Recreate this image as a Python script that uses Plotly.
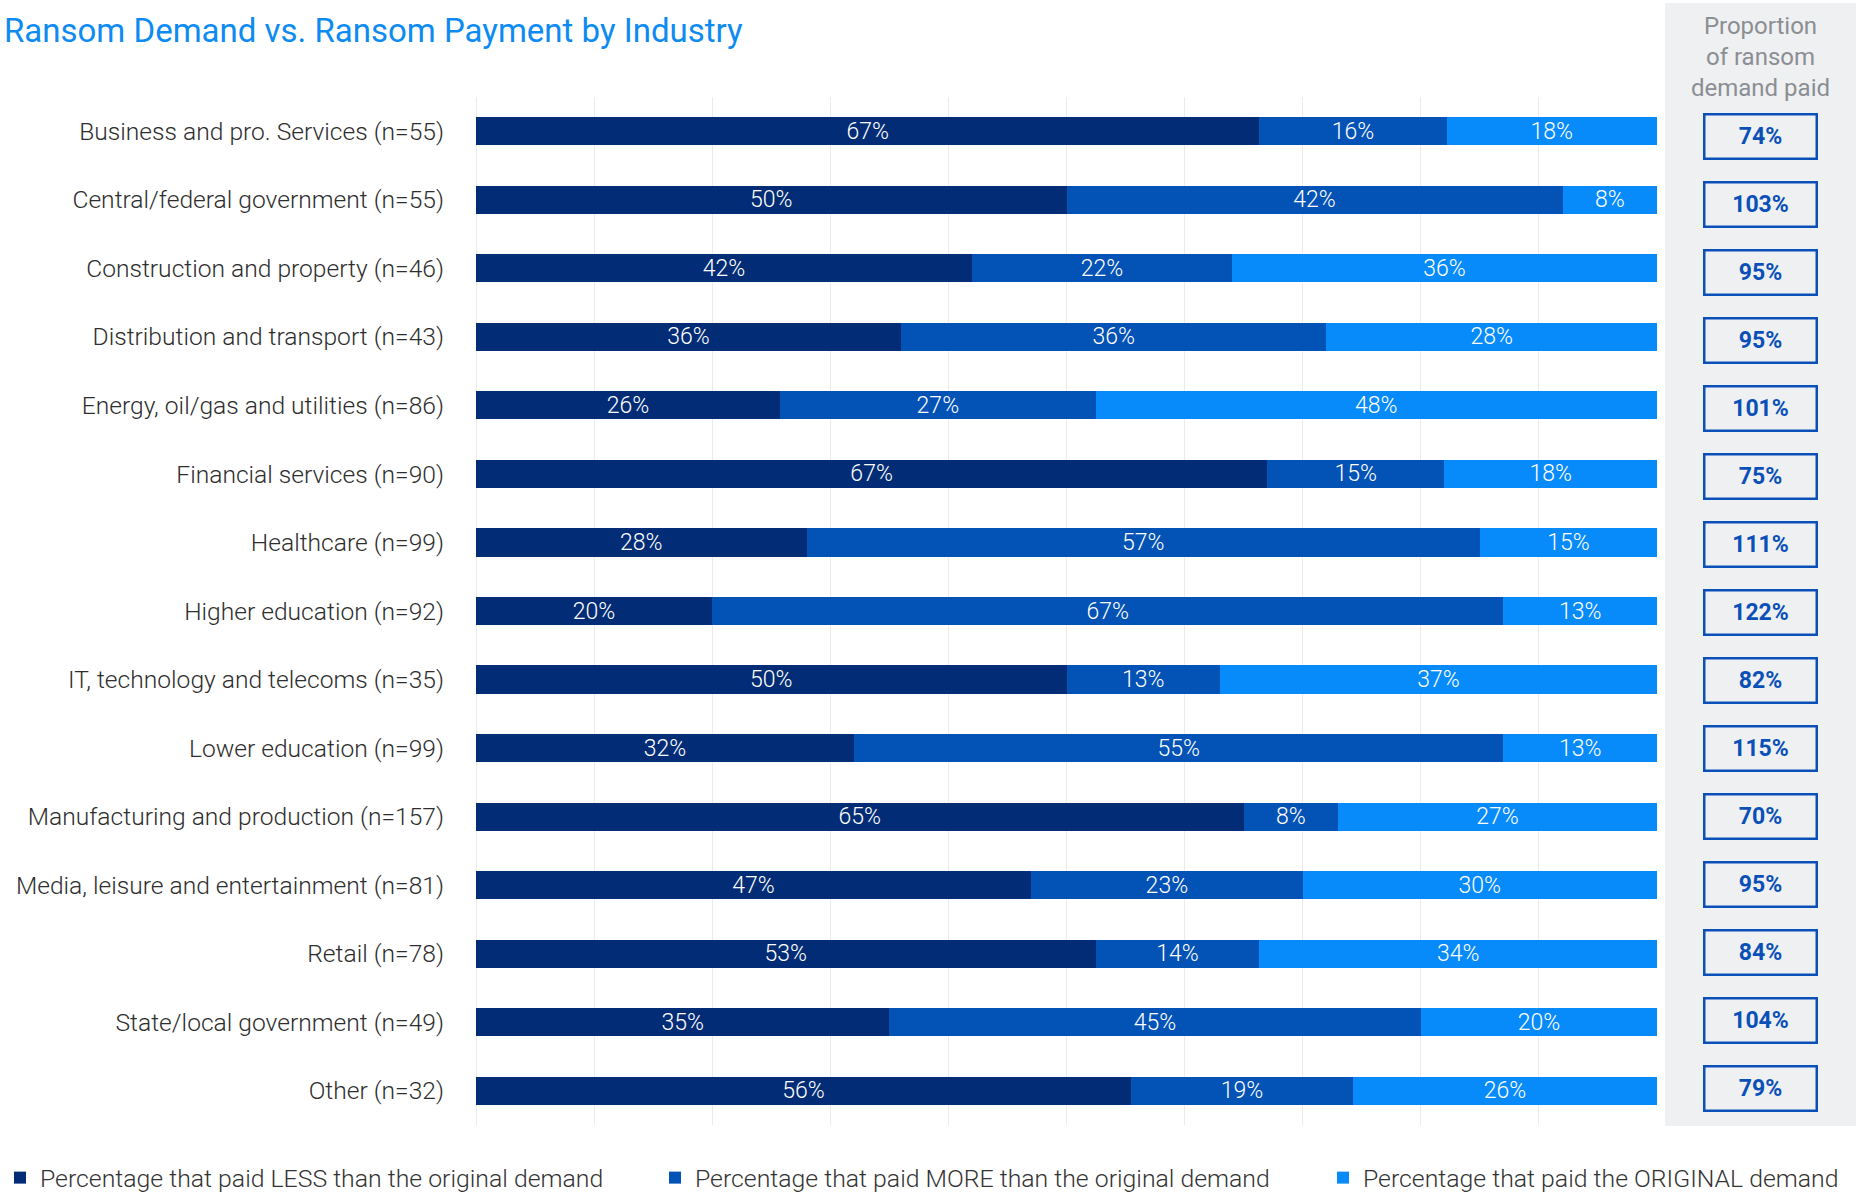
import plotly.graph_objects as go

categories = [
    "Business and pro. Services (n=55)",
    "Central/federal government (n=55)",
    "Construction and property (n=46)",
    "Distribution and transport (n=43)",
    "Energy, oil/gas and utilities (n=86)",
    "Financial services (n=90)",
    "Healthcare (n=99)",
    "Higher education (n=92)",
    "IT, technology and telecoms (n=35)",
    "Lower education (n=99)",
    "Manufacturing and production (n=157)",
    "Media, leisure and entertainment (n=81)",
    "Retail (n=78)",
    "State/local government (n=49)",
    "Other (n=32)",
]
paid_less = [67, 50, 42, 36, 26, 67, 28, 20, 50, 32, 65, 47, 53, 35, 56]
paid_more = [16, 42, 22, 36, 27, 15, 57, 67, 13, 55, 8, 23, 14, 45, 19]
paid_original = [18, 8, 36, 28, 48, 18, 15, 13, 37, 13, 27, 30, 34, 20, 26]
proportion_paid = [74, 103, 95, 95, 101, 75, 111, 122, 82, 115, 70, 95, 84, 104, 79]

series_names = [
    "Percentage that paid LESS than the original demand",
    "Percentage that paid MORE than the original demand",
    "Percentage that paid the ORIGINAL demand",
]
series_values = [paid_less, paid_more, paid_original]
colors = ["#022c75", "#0352b6", "#078bfb"]
header_text = "Proportion<br>of ransom<br>demand paid"

totals = [a + b + c for a, b, c in zip(paid_less, paid_more, paid_original)]

# figure geometry (px)
W, H = 1858, 1192
L, R, T, B = 476, 201, 97, 67
pw = W - L - R
ph = H - T - B


def px_x(px):
    return (px - L) / pw


def px_y(py):
    return (H - B - py) / ph


legend_ids = ["legend", "legend2", "legend3"]
legend_left_px = [-21, 655, 1323]

LIGHT = "Roboto Light, Roboto"

fig = go.Figure()
for name, vals, col, lid in zip(series_names, series_values, colors, legend_ids):
    fig.add_trace(go.Bar(
        name=name,
        y=categories,
        x=[v / t * 100 for v, t in zip(vals, totals)],
        customdata=vals,
        orientation="h",
        legend=lid,
        marker=dict(color=col, line=dict(width=0)),
        texttemplate="%{customdata}%",
        textposition="inside",
        insidetextanchor="middle",
        constraintext="none",
        textangle=0,
        textfont=dict(family=LIGHT, size=23, color="white"),
        hoverinfo="skip",
    ))

annotations = []
# title
annotations.append(dict(
    text="Ransom Demand vs. Ransom Payment by Industry",
    xref="paper", yref="paper", x=px_x(2), y=px_y(30),
    xanchor="left", yanchor="middle", showarrow=False,
    font=dict(family="Roboto", size=33, color="#0d8bf2"),
))
# panel header
annotations.append(dict(
    text=header_text,
    xref="paper", yref="paper", x=px_x(1760), y=px_y(57),
    xanchor="center", yanchor="middle", showarrow=False, align="center",
    font=dict(family="Roboto", size=24, color="#8b8e92"),
))
# proportion boxes
n = len(categories)
for i, (cat, p) in enumerate(zip(categories, proportion_paid)):
    annotations.append(dict(
        text=f"<b>{p}%</b>",
        xref="paper", yref="y", x=px_x(1760), y=cat,
        xanchor="center", yanchor="middle", showarrow=False,
        width=110, height=42, borderwidth=2.5, borderpad=0,
        bordercolor="#0a50b8", bgcolor="#eff0f2",
        yshift=-5 + 7 * i / (n - 1),
        font=dict(family="Roboto", size=23, color="#0a50b8"),
    ))

legend_common = dict(
    orientation="h", xref="container", yref="container",
    xanchor="left", yanchor="middle", y=(H - 1178) / H,
    itemwidth=30, bgcolor="rgba(0,0,0,0)",
    font=dict(family=LIGHT, size=24.8, color="#333333"),
    itemclick=False, itemdoubleclick=False,
)

fig.update_layout(
    width=W, height=H,
    margin=dict(l=L, r=R, t=T, b=B, autoexpand=False),
    paper_bgcolor="white", plot_bgcolor="white",
    barmode="stack", bargap=0.59,
    showlegend=True,
    legend=dict(x=legend_left_px[0] / W, **legend_common),
    legend2=dict(x=legend_left_px[1] / W, **legend_common),
    legend3=dict(x=legend_left_px[2] / W, **legend_common),
    annotations=annotations,
    shapes=[dict(
        type="rect", xref="paper", yref="paper", layer="below",
        x0=px_x(1665), x1=px_x(1856), y0=px_y(1126), y1=px_y(3),
        fillcolor="#eff0f2", line=dict(width=0),
    )],
    xaxis=dict(
        range=[0, 100], tick0=0, dtick=10, showticklabels=False,
        showgrid=True, gridcolor="#ebebeb", gridwidth=1,
        zeroline=True, zerolinecolor="#ebebeb", zerolinewidth=1,
        fixedrange=True,
    ),
    yaxis=dict(
        categoryorder="array", categoryarray=categories, autorange="reversed",
        showgrid=False, zeroline=False, ticks="", ticklabelstandoff=31,
        tickfont=dict(family=LIGHT, size=24.6, color="#2e2e2e"),
        fixedrange=True,
    ),
    font=dict(family="Roboto"),
)

fig.write_html(
    "out.html",
    config={"displayModeBar": False},
    post_script="document.body.style.margin='0';",
)
